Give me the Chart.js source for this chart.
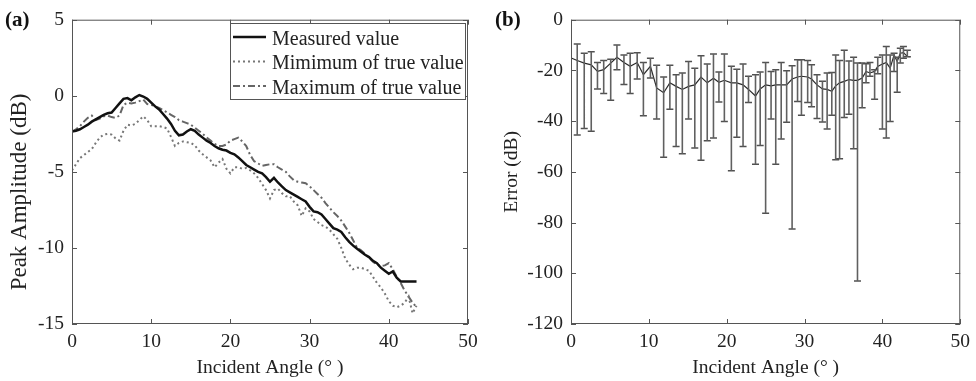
<!DOCTYPE html>
<html>
<head>
<meta charset="utf-8">
<script src="https://cdn.jsdelivr.net/npm/chart.js@4.4.1/dist/chart.umd.min.js"></script>
<style>
  html, body { margin: 0; padding: 0; background: #fff; }
  .wrap { position: relative; width: 976px; height: 381px; }
  canvas { position: absolute; top: 0; }
  #chartA { left: 0; }
  #chartB { left: 488px; }
</style>
</head>
<body>
<div class="wrap">
  <canvas id="chartA" width="488" height="381"></canvas>
  <canvas id="chartB" width="488" height="381"></canvas>
</div>
<script>
// (a) peak amplitude vs incident angle
const angleA = [
  0, 0.5, 1, 1.5, 2, 2.5, 3, 3.5, 4, 4.5,
  5, 5.5, 6, 6.5, 7, 7.5, 8, 8.5, 9, 9.5,
  10, 10.5, 11, 11.5, 12, 12.5, 13, 13.5, 14, 14.5,
  15, 15.5, 16, 16.5, 17, 17.5, 18, 18.5, 19, 19.5,
  20, 20.5, 21, 21.5, 22, 22.5, 23, 23.5, 24, 24.5,
  25, 25.5, 26, 26.5, 27, 27.5, 28, 28.5, 29, 29.5,
  30, 30.5, 31, 31.5, 32, 32.5, 33, 33.5, 34, 34.5,
  35, 35.5, 36, 36.5, 37, 37.5, 38, 38.5, 39, 39.5,
  40, 40.5, 41, 41.5, 42, 42.5, 43, 43.5,
];
const measured = [
  -2.35, -2.3, -2.2, -2.05, -1.9, -1.7, -1.55, -1.4, -1.25, -1.15,
  -1.1, -0.8, -0.5, -0.2, -0.15, -0.3, -0.1, 0.05, -0.05, -0.2,
  -0.45, -0.7, -0.9, -1.2, -1.5, -1.85, -2.3, -2.6, -2.55, -2.35,
  -2.2, -2.3, -2.55, -2.75, -2.95, -3.1, -3.3, -3.45, -3.55, -3.6,
  -3.75, -3.85, -4.05, -4.3, -4.55, -4.7, -4.85, -5.0, -5.1, -5.35,
  -5.65, -5.4, -5.7, -5.95, -6.2, -6.35, -6.5, -6.65, -6.8, -6.95,
  -7.3, -7.6, -7.65, -7.8, -8.1, -8.4, -8.7, -8.8, -8.95, -9.3,
  -9.6, -9.85, -10.05, -10.25, -10.45, -10.6, -10.85, -11.0, -11.3, -11.5,
  -11.7, -11.55, -11.95, -12.2, -12.2, -12.2, -12.2, -12.2,
];
const minTrue = [
  -4.9, -4.5, -4.1, -3.9, -3.7, -3.5, -3.1, -2.75, -2.55, -2.5,
  -2.55, -2.8, -2.95, -2.3, -1.9, -1.95, -1.85, -1.6, -1.35, -1.6,
  -2.0, -2.0, -2.0, -2.05, -2.15, -2.7, -3.3, -3.1, -3.0, -3.05,
  -3.1, -3.25, -3.6, -3.85, -4.05, -4.25, -4.7, -4.4, -4.15, -4.8,
  -5.1, -4.7, -4.7, -4.8, -4.75, -4.9, -5.1, -5.4, -5.8, -6.2,
  -6.75, -6.2, -6.1, -6.4, -6.6, -6.6, -6.95, -7.2, -7.9, -7.4,
  -7.6, -8.1, -8.3, -8.5, -8.6, -8.8, -9.1, -9.4, -10.0, -10.7,
  -11.1, -11.4, -11.3, -11.3, -11.4, -11.5, -11.9, -12.3, -12.6, -13.0,
  -13.5, -13.8, -13.9, -13.8, -13.6, -13.2, -14.3, -13.8,
];
const maxTrue = [
  -2.35, -2.2, -2.0, -1.7, -1.45, -1.3, -1.6, -1.5, -1.35, -1.3,
  -1.4, -1.45, -1.3, -0.6, -0.45, -0.5, -0.45, -0.35, -0.25, -0.55,
  -0.6, -0.7, -0.8, -0.95, -1.1, -1.25, -1.4, -1.6, -1.7, -1.8,
  -1.9, -2.1, -2.3, -2.5, -2.75, -2.95, -3.15, -3.3, -3.3, -3.2,
  -2.95, -2.85, -2.75, -3.0, -3.3, -3.9, -4.3, -4.45, -4.6, -4.55,
  -4.5, -4.5, -4.7, -4.85, -5.0, -5.3, -5.55, -5.65, -5.7, -5.75,
  -5.95, -6.2, -6.45, -6.7, -7.05, -7.35, -7.65, -7.9, -8.2, -8.6,
  -9.0, -9.5, -10.0, -10.15, -10.4, -10.65, -10.9, -11.1, -11.2, -11.15,
  -11.0, -11.4, -11.9, -12.3, -12.8, -13.2, -13.6, -13.9,
];

// (b) error vs incident angle (mean with min/max bars)
const errAngle = [
  0.1, 0.8, 1.7, 2.6, 3.4, 4.2, 5.1, 5.9, 6.8, 7.6, 8.5,
  9.3, 10.2, 11.0, 11.9, 12.7, 13.5, 14.3, 15.1, 15.9, 16.7,
  17.5, 18.3, 19.0, 19.7, 20.6, 21.3, 22.1, 22.8, 23.7, 24.3,
  25.0, 25.7, 26.3, 27.0, 27.7, 28.4, 29.1, 29.6, 30.4, 30.9,
  31.6, 32.3, 32.9, 33.5, 34.0, 34.5, 35.1, 35.7, 36.3, 36.8,
  37.4, 37.9, 38.4, 39.0, 39.4, 40.0, 40.5, 41.0, 41.5, 41.9,
  42.3, 42.7, 43.2, 43.6,
];
const errMean = [
  -15.2, -16.1, -17.1, -17.8, -20.4, -19.7, -17.1, -14.8, -16.9, -18.4, -16.9,
  -21.7, -18.4, -26.9, -28.8, -24.9, -26.3, -27.5, -26.3, -25.7, -22.6,
  -24.9, -23.1, -24.7, -23.9, -24.9, -24.9, -25.7, -27.5, -30.1, -27.3,
  -25.7, -26.1, -25.7, -25.7, -25.7, -23.4, -22.6, -22.3, -22.6, -23.4,
  -25.7, -27.3, -27.5, -28.2, -26.1, -24.9, -24.3, -23.6, -23.9, -23.9,
  -23.0, -20.4, -21.0, -20.4, -18.4, -17.5, -16.9, -19.1, -13.9, -16.5,
  -13.2, -13.0, -14.5, -14.6,
];
const errHigh = [
  null, -9.6, -13.2, -12.6, -16.9, -16.1, -15.6, -10, -13.9, -13.2, -13,
  -16.9, -15.2, -18, -22.6, -18, -21.7, -21, -16.5, -19.1, -14.2,
  -17.5, -13.5, -20.6, -13.5, -18.4, -19.5, -17.5, -22.3, -21.7, -20.6,
  -16.9, -20.4, -19.7, -16.9, -20.1, -18.2, -15.8, -15.8, -16.1, -17.8,
  -21.7, -24.3, -21, -20.8, -13.9, -16.1, -12, -16.3, -14.8, -17.1,
  -17.1, -17.4, -16.9, -19.7, -14.8, -13.9, -10.6, -13.9, -13.2, -14.8,
  -11.3, -10.6, -12, null,
];
const errLow = [
  null, -45.5, -42.9, -44, -27.3, -29.1, -31.8, -19.7, -25.6, -29.1, -23.4,
  -37.9, -23, -39.2, -54.2, -35.3, -50, -52.9, -39.2, -50.6, -55.4,
  -47.7, -46.7, -32.5, -40.1, -59.6, -46.4, -50, -32.7, -57, -49.6,
  -76.3, -39.2, -57, -47, -40.4, -82.5, -32.3, -37.7, -32.7, -34.3,
  -39, -40.3, -43.1, -37.7, -55.2, -54.8, -38.6, -37.3, -50.9, -103,
  -34.7, -24.9, -22.3, -31.4, -21.3, -43.1, -46.7, -40.1, -20.4, -28.6,
  -17.1, -15.2, -14.6, null,
];

const serif = '"Liberation Serif", "Times New Roman", serif';
const axisColor = '#555';
const textColor = '#222';

// MATLAB style box with ticks pointing inward on all four sides
const frameTicks = {
    id: 'frameTicks',
    afterDraw(chart, _args, opts) {
        const { ctx, chartArea: a, scales: { x, y } } = chart;
        const len = opts.length || 5;
        ctx.save();
        ctx.strokeStyle = opts.color || axisColor;
        ctx.lineWidth = 1;
        ctx.strokeRect(a.left + .5, a.top + .5, a.right - a.left - 1, a.bottom - a.top - 1);
        ctx.beginPath();
        x.ticks.forEach((t) => {
            const px = Math.round(x.getPixelForValue(t.value)) + .5;
            ctx.moveTo(px, a.bottom); ctx.lineTo(px, a.bottom - len);
            ctx.moveTo(px, a.top); ctx.lineTo(px, a.top + len);
        });
        y.ticks.forEach((t) => {
            const py = Math.round(y.getPixelForValue(t.value)) + .5;
            ctx.moveTo(a.left, py); ctx.lineTo(a.left + len, py);
            ctx.moveTo(a.right, py); ctx.lineTo(a.right - len, py);
        });
        ctx.stroke();
        ctx.restore();
    },
};

const panelLabel = {
    id: 'panelLabel',
    afterDraw(chart, _args, opts) {
        const { ctx } = chart;
        ctx.save();
        ctx.fillStyle = '#111';
        ctx.font = `bold 21px ${serif}`;
        ctx.textBaseline = 'alphabetic';
        ctx.fillText(opts.text, opts.x, opts.y);
        ctx.restore();
    },
};

// boxed legend in the top right corner of (a)
const boxLegend = {
    id: 'boxLegend',
    afterDraw(chart, _args, opts) {
        const { ctx } = chart;
        const { left, top, width, height } = opts;
        ctx.save();
        ctx.fillStyle = '#fff';
        ctx.fillRect(left, top, width, height);
        ctx.strokeStyle = '#555';
        ctx.lineWidth = 1;
        ctx.strokeRect(left + .5, top + .5, width, height);
        ctx.font = `20px ${serif}`;
        ctx.fillStyle = '#222';
        chart.data.datasets.forEach((ds, i) => {
            const lineY = top + 14 + i * 24.5;
            ctx.beginPath();
            ctx.strokeStyle = ds.borderColor;
            ctx.lineWidth = ds.borderWidth;
            ctx.setLineDash(ds.borderDash || []);
            ctx.moveTo(left + 3, lineY);
            ctx.lineTo(left + 36, lineY);
            ctx.stroke();
            ctx.setLineDash([]);
            ctx.fillText(ds.label, left + 42, lineY + 7.5);
        });
        ctx.restore();
    },
};

const tickFont = { family: serif, size: 19.5 };

const points = (xs, ys) => xs.map((x, i) => ({ x, y: ys[i] }));

new Chart(document.getElementById('chartA'), {
    type: 'line',
    data: {
        datasets: [
            {
                label: 'Measured value',
                data: points(angleA, measured),
                borderColor: '#111',
                borderWidth: 2.5,
                pointRadius: 0,
                tension: 0,
            },
            {
                label: 'Mimimum of true value',
                data: points(angleA, minTrue),
                borderColor: '#777',
                borderWidth: 2,
                borderDash: [2, 3],
                pointRadius: 0,
                tension: 0,
            },
            {
                label: 'Maximum of true value',
                data: points(angleA, maxTrue),
                borderColor: '#666',
                borderWidth: 2,
                borderDash: [7, 3, 2, 3],
                pointRadius: 0,
                tension: 0,
            },
        ],
    },
    plugins: [frameTicks, panelLabel, boxLegend],
    options: {
        responsive: false,
        animation: false,
        layout: { padding: { left: 0, right: 20, top: 16, bottom: 0 } },
        plugins: {
            legend: { display: false },
            tooltip: { enabled: false },
            panelLabel: { text: '(a)', x: 5, y: 26 },
            boxLegend: { left: 230, top: 23, width: 235, height: 76 },
            frameTicks: { length: 5 },
        },
        scales: {
            x: {
                type: 'linear',
                min: 0,
                max: 50,
                ticks: { stepSize: 10, font: tickFont, color: textColor, padding: 6 },
                grid: { display: false, drawTicks: false },
                border: { display: false },
                title: {
                    display: true,
                    text: 'Incident Angle (° )',
                    font: tickFont,
                    color: textColor,
                    padding: { top: 0, bottom: 1 },
                },
                afterFit: (s) => { s.height = 57; },
            },
            y: {
                type: 'linear',
                min: -15,
                max: 5,
                ticks: { stepSize: 5, font: tickFont, color: textColor, padding: 8 },
                grid: { display: false, drawTicks: false },
                border: { display: false },
                title: {
                    display: true,
                    text: 'Peak Amplitude (dB)\u2002\u2002\u2002 ',
                    font: { family: serif, size: 23 },
                    color: textColor,
                    padding: { top: 6, bottom: 0 },
                },
                afterFit: (s) => { s.width = 72; },
            },
        },
    },
});

const whiskers = [];
const caps = [];
errAngle.forEach((a, i) => {
    if (errLow[i] === null) return;
    whiskers.push({ x: a, y: errHigh[i] }, { x: a, y: errLow[i] }, { x: a, y: null });
    caps.push({ x: a, y: errHigh[i] }, { x: a, y: errLow[i] });
});

new Chart(document.getElementById('chartB'), {
    type: 'line',
    data: {
        datasets: [
            {
                label: 'range',
                data: whiskers,
                borderColor: '#606060',
                borderWidth: 1.6,
                pointRadius: 0,
                spanGaps: false,
            },
            {
                label: 'caps',
                data: caps,
                showLine: false,
                pointStyle: 'line',
                pointRadius: 3.5,
                pointBorderColor: '#505050',
                pointBorderWidth: 1.5,
            },
            {
                label: 'mean',
                data: points(errAngle, errMean),
                borderColor: '#2a2a2a',
                borderWidth: 1.2,
                pointRadius: 0,
                tension: 0,
            },
        ],
    },
    plugins: [frameTicks, panelLabel],
    options: {
        responsive: false,
        animation: false,
        layout: { padding: { left: 0, right: 15, top: 16, bottom: 0 } },
        plugins: {
            legend: { display: false },
            tooltip: { enabled: false },
            panelLabel: { text: '(b)', x: 7, y: 26 },
            frameTicks: { length: 5 },
        },
        scales: {
            x: {
                type: 'linear',
                min: 0,
                max: 50,
                ticks: { stepSize: 10, font: tickFont, color: textColor, padding: 6 },
                grid: { display: false, drawTicks: false },
                border: { display: false },
                title: {
                    display: true,
                    text: 'Incident Angle (° )',
                    font: tickFont,
                    color: textColor,
                    padding: { top: 0, bottom: 1 },
                },
                afterFit: (s) => { s.height = 57; },
            },
            y: {
                type: 'linear',
                min: -120,
                max: 0,
                ticks: { stepSize: 20, font: tickFont, color: textColor, padding: 8 },
                grid: { display: false, drawTicks: false },
                border: { display: false },
                title: {
                    display: true,
                    text: 'Error (dB)',
                    font: tickFont,
                    color: textColor,
                    padding: { top: 12, bottom: 0 },
                },
                afterFit: (s) => { s.width = 83; },
            },
        },
    },
});
</script>
</body>
</html>
